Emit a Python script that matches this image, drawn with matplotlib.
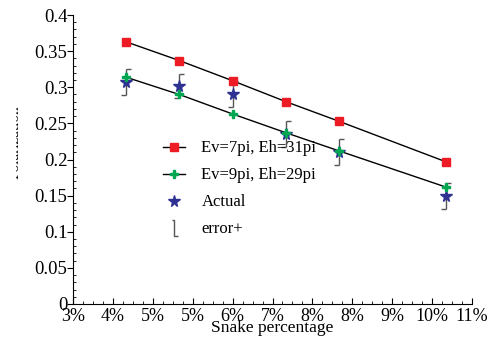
import numpy as np
import matplotlib
matplotlib.use("Agg")
import matplotlib.pyplot as plt
from matplotlib.path import Path
from matplotlib.lines import Line2D
from matplotlib.patches import Rectangle
from matplotlib.ticker import MultipleLocator

plt.rcParams['font.family'] = ['Liberation Serif', 'DejaVu Serif']

# data (snake percentage in %)
snake = [4.06, 5.13, 6.20, 7.27, 8.33, 10.47]
ev7 = [0.363, 0.337, 0.309, 0.280, 0.253, 0.197]
ev9 = [0.314, 0.290, 0.263, 0.237, 0.212, 0.162]
actual = [0.307, 0.302, 0.290, 0.235, 0.211, 0.150]
err = [0.018, 0.017, 0.018, 0.018, 0.018, 0.018]

xticks = [3.0, 3.8, 4.6, 5.4, 6.2, 7.0, 7.8, 8.6, 9.4, 10.2, 11.0]
xlabels = ['3%', '4%', '5%', '5%', '6%', '7%', '8%', '8%', '9%', '10%', '11%']

fig = plt.figure(figsize=(4.88, 3.37), dpi=100)
ax = fig.add_axes([73/488, 33/337, 399/488, 289/337])

# half caps: top one points right, bottom one points left
cap_r = Path([(0, 0), (1, 0)], [Path.MOVETO, Path.LINETO])
cap_l = Path([(-1, 0), (0, 0)], [Path.MOVETO, Path.LINETO])
ecol = '#555555'
lo = np.array(actual) - np.array(err)
hi = np.array(actual) + np.array(err)
ax.vlines(snake, lo, hi, color=ecol, lw=1, zorder=2)
ax.plot(snake, hi, ls='none', marker=cap_r, ms=7, mew=1, color=ecol, zorder=2)
ax.plot(snake, lo, ls='none', marker=cap_l, ms=7, mew=1, color=ecol, zorder=2)

ax.plot(snake, ev7, color='black', lw=1, zorder=3)
ax.plot(snake, ev9, color='black', lw=1, zorder=3)
ax.plot(snake, actual, ls='none', marker='*', ms=8.5, color='#2e3192', zorder=4)
ax.plot(snake, ev7, ls='none', marker='s', ms=6, color='#ed1c24', zorder=5)
ax.plot(snake, ev9, ls='none', marker='P', ms=6, color='#00a651', zorder=5)

ax.set_xlim(3, 11)
ax.set_ylim(0, 0.4)
ax.set_xticks(xticks)
ax.set_xticklabels(xlabels)
ax.xaxis.set_minor_locator(MultipleLocator(0.2))
ax.set_yticks(np.arange(0, 0.401, 0.05))
ax.set_yticklabels(['0', '0.05', '0.1', '0.15', '0.2', '0.25', '0.3', '0.35', '0.4'])
ax.yaxis.set_minor_locator(MultipleLocator(0.01))
ax.tick_params(axis='y', labelsize=13.5, width=0.8)
ax.tick_params(axis='x', labelsize=13, width=0.8)
ax.tick_params(axis='y', which='major', direction='out', length=4, pad=0)
ax.tick_params(axis='y', which='minor', direction='in', length=2)
ax.tick_params(axis='x', which='major', direction='in', length=4, pad=3)
ax.tick_params(axis='x', which='minor', direction='in', length=2)
ax.spines['top'].set_visible(False)
ax.spines['right'].set_visible(False)
ax.set_xlabel('Snake percentage', fontsize=12.5, labelpad=-3.5)
ax.set_ylabel('Polarization', fontsize=11)
ax.yaxis.set_label_coords(-0.128, 0.56)

errmark = Path([(-0.3, 1), (0, 1), (0, -1), (0.5, -1)],
               [Path.MOVETO, Path.LINETO, Path.LINETO, Path.LINETO])
handles = [
    Line2D([], [], color='black', lw=1, marker='s', ms=6, mfc='#ed1c24', mec='#ed1c24'),
    Line2D([], [], color='black', lw=1, marker='P', ms=6, mfc='#00a651', mec='#00a651'),
    Line2D([], [], ls='none', marker='*', ms=8.5, color='#2e3192'),
    Line2D([], [], ls='none', marker=errmark, ms=11, mew=1, color=ecol, mfc='none'),
]
labels = ['Ev=7pi, Eh=31pi', 'Ev=9pi, Eh=29pi', 'Actual', 'error+']
ax.legend(handles, labels, loc='upper left', bbox_to_anchor=(0.205, 0.595),
          frameon=False, fontsize=12, labelspacing=0.66, handlelength=1.3,
          borderpad=0, handletextpad=1.0)

# the left edge of the original is blanked out, hiding most of the y label
fig.add_artist(Rectangle((0, 0), 15/488, 1, transform=fig.transFigure,
                         color='white', zorder=10))

fig.savefig('out.png', dpi=100)
